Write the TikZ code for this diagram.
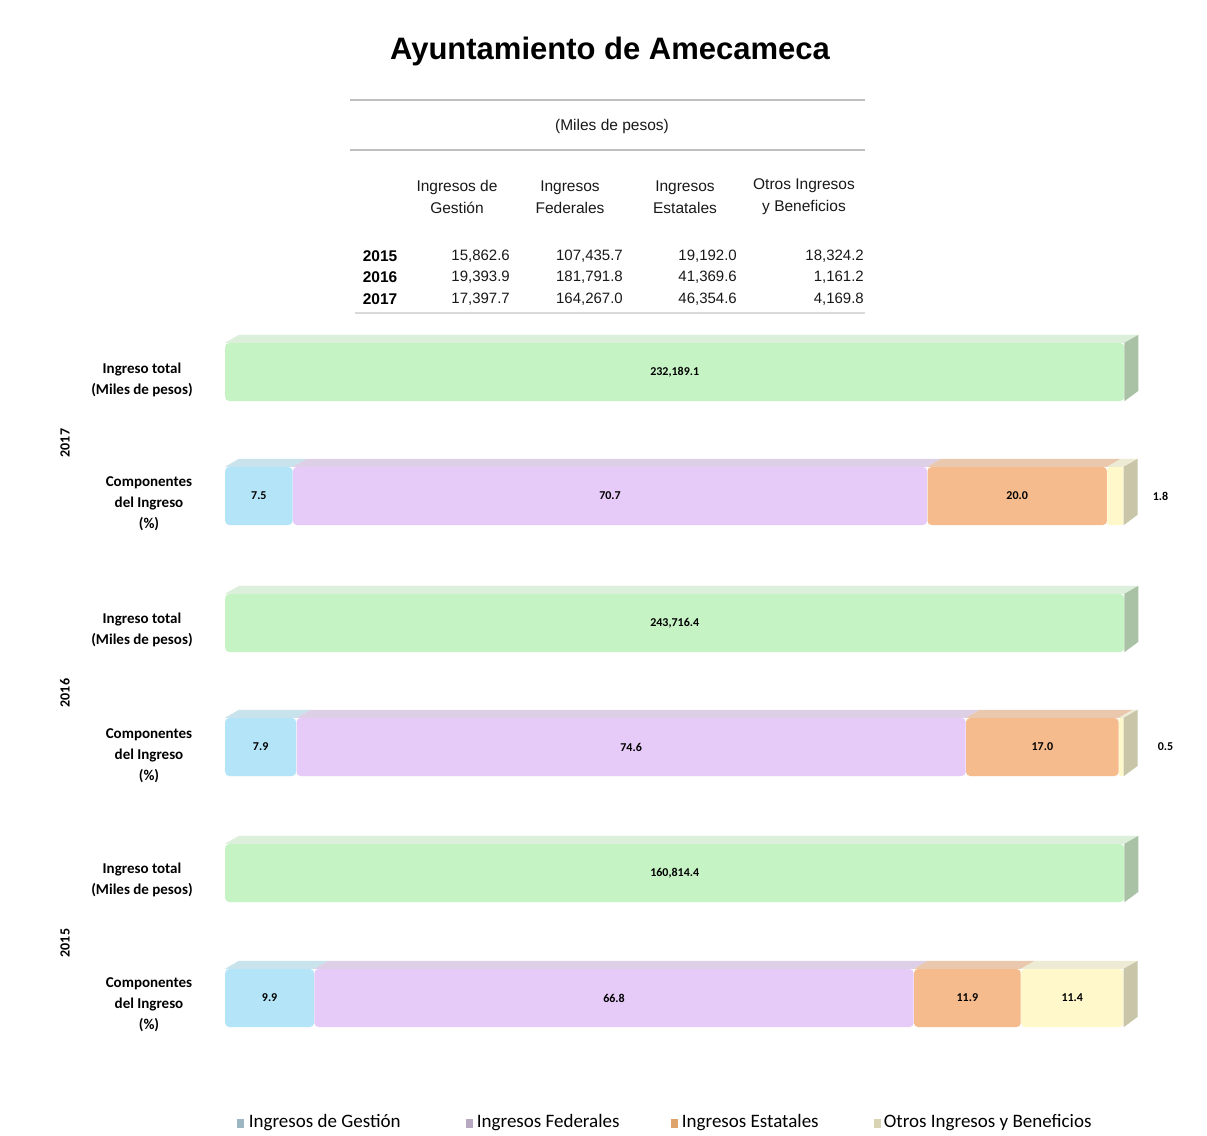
\documentclass[tikz,border=0pt]{standalone}
\usepackage{fontspec}
\setmainfont{Liberation Sans}
\newfontfamily\calfont{Carlito}
\usetikzlibrary{positioning}
\definecolor{verde}{HTML}{C6F3C4}
\definecolor{verdetop}{HTML}{DCEFDA}
\definecolor{verdeside}{HTML}{A9C2A5}
\definecolor{azul}{HTML}{B3E4F7}
\definecolor{azultop}{HTML}{C9E3EC}
\definecolor{morado}{HTML}{E6CAF7}
\definecolor{moradotop}{HTML}{DDD0E6}
\definecolor{naranja}{HTML}{F5BB8C}
\definecolor{naranjatop}{HTML}{EAC8AE}
\definecolor{amarillo}{HTML}{FFF8CA}
\definecolor{amarillotop}{HTML}{EEEBD4}
\definecolor{lateral}{HTML}{C8C5A8}
\tikzset{
    seg/.style={
        rectangle, rounded corners=4pt, minimum height=58pt, inner sep=0pt, align=center, text=black, font=\calfont\bfseries\fontsize{12}{14}\selectfont
    },
    rowlabel/.style={
        align=center, text=black, font=\calfont\bfseries\fontsize{15}{21}\selectfont
    },
    yearlabel/.style={
        rotate=90, text=black, font=\calfont\bfseries\fontsize{14}{16}\selectfont
    },
    head/.style={
        align=center, text=black!90, font=\fontsize{15.5}{22}\selectfont
    },
    cell/.style={
        anchor=east, inner sep=0pt, text=black!90, font=\fontsize{15}{16}\selectfont
    },
    year/.style={
        inner sep=0pt, text=black, font=\bfseries\fontsize{15.5}{16}\selectfont
    },
    rule/.style={
        draw=black!25, line width=1.2pt
    },
    legbox/.style={
        rectangle, minimum width=7pt, minimum height=9pt, inner sep=0pt
    },
    legtext/.style={
        inner sep=0pt, text=black, font=\calfont\fontsize{19}{21}\selectfont
    }
}
% top and side faces of a bar piece
\newcommand{\tapa}[2]{\fill[#2] (#1.north west) -- (#1.north east) -- ++(14,-8) -- ([xshift=14pt,yshift=8pt]#1.north west) -- cycle;}
\newcommand{\lado}[2]{\fill[#2] (#1.north east) -- ++(14,-8) -- ++(0,56) -- (#1.south east) -- cycle;}

\begin{document}
\begin{tikzpicture}[x=1pt, y=-1pt]
    \useasboundingbox[fill=white] (0,0) rectangle (1207,1135);

    % titulo y tabla
    \node (title) at (610,51) {\fontsize{31}{36}\selectfont\bfseries Ayuntamiento de Amecameca};
    \coordinate (r1a) at (350,100);  \coordinate (r1b) at (865,100);
    \coordinate (r2a) at (350,150);  \coordinate (r2b) at (865,150);
    \coordinate (r3a) at (355,313);  \coordinate (r3b) at (865,313);
    \draw[rule] (r1a) -- (r1b);
    \draw[rule] (r2a) -- (r2b);
    \draw[rule, draw=black!15] (r3a) -- (r3b);
    \node[head] (units) at (612,126) {(Miles de pesos)};
    \node[head] (hgest) at (457,197) {Ingresos de\\Gestión};
    \node[head] (hfed) at (570,197) {Ingresos\\Federales};
    \node[head] (hest) at (685,197) {Ingresos\\Estatales};
    \node[head] (hotr) at (804,197) {Otros Ingresos\\y Beneficios};

    \node[year] (y15) at (380,256) {2015};
    \node[year] (y16) at (380,277) {2016};
    \node[year] (y17) at (380,299) {2017};
    \node[cell] (c15a) at (510,256) {15,862.6};
    \node[cell] (c15b) at (623,256) {107,435.7};
    \node[cell] (c15c) at (737,256) {19,192.0};
    \node[cell] (c15d) at (864,256) {18,324.2};
    \node[cell] (c16a) at (510,277) {19,393.9};
    \node[cell] (c16b) at (623,277) {181,791.8};
    \node[cell] (c16c) at (737,277) {41,369.6};
    \node[cell] (c16d) at (864,277) {1,161.2};
    \node[cell] (c17a) at (510,299) {17,397.7};
    \node[cell] (c17b) at (623,299) {164,267.0};
    \node[cell] (c17c) at (737,299) {46,354.6};
    \node[cell] (c17d) at (864,299) {4,169.8};

    % etiquetas de la izquierda
    \node[yearlabel] (a17) at (65,443) {2017};
    \node[yearlabel] (a16) at (65,693) {2016};
    \node[yearlabel] (a15) at (65,943) {2015};
    \node[rowlabel] (lt17) at (142,380) {Ingreso total\\(Miles de pesos)};
    \node[rowlabel] (lc17) at (149,504) {Componentes\\del Ingreso\\(\%)};
    \node[rowlabel] (lt16) at (142,630) {Ingreso total\\(Miles de pesos)};
    \node[rowlabel] (lc16) at (149,756) {Componentes\\del Ingreso\\(\%)};
    \node[rowlabel] (lt15) at (142,880) {Ingreso total\\(Miles de pesos)};
    \node[rowlabel] (lc15) at (149,1005) {Componentes\\del Ingreso\\(\%)};

    % 2017
    \node[seg, fill=verde, minimum width=899pt, anchor=west] (tot17) at (225,372) {232,189.1};
    \tapa{tot17}{verdetop} \lado{tot17}{verdeside}
    \node[seg, fill=azul, minimum width=67.3pt, anchor=west] (g17) at (225,496) {7.5};
    \node[seg, fill=morado, minimum width=634.2pt, right=0pt of g17] (f17) {70.7};
    \node[seg, fill=naranja, minimum width=179.4pt, right=0pt of f17] (e17) {20.0};
    \node[seg, fill=amarillo, minimum width=16.1pt, rounded corners=2pt, right=0pt of e17] (o17) {};
    \tapa{g17}{azultop} \tapa{f17}{moradotop} \tapa{e17}{naranjatop} \tapa{o17}{amarillotop} \lado{o17}{lateral}
    \node[seg, right=29pt of o17] (v17) {1.8};

    % 2016
    \node[seg, fill=verde, minimum width=899pt, anchor=west] (tot16) at (225,623) {243,716.4};
    \tapa{tot16}{verdetop} \lado{tot16}{verdeside}
    \node[seg, fill=azul, minimum width=70.9pt, anchor=west] (g16) at (225,747) {7.9};
    \node[seg, fill=morado, minimum width=669.2pt, right=0pt of g16] (f16) {74.6};
    \node[seg, fill=naranja, minimum width=152.5pt, right=0pt of f16] (e16) {17.0};
    \node[seg, fill=amarillo, minimum width=4.5pt, rounded corners=1pt, right=0pt of e16] (o16) {};
    \tapa{g16}{azultop} \tapa{f16}{moradotop} \tapa{e16}{naranjatop} \tapa{o16}{amarillotop} \lado{o16}{lateral}
    \node[seg, right=34pt of o16] (v16) {0.5};

    % 2015
    \node[seg, fill=verde, minimum width=899pt, anchor=west] (tot15) at (225,873) {160,814.4};
    \tapa{tot15}{verdetop} \lado{tot15}{verdeside}
    \node[seg, fill=azul, minimum width=88.8pt, anchor=west] (g15) at (225,998) {9.9};
    \node[seg, fill=morado, minimum width=599.2pt, right=0pt of g15] (f15) {66.8};
    \node[seg, fill=naranja, minimum width=106.7pt, right=0pt of f15] (e15) {11.9};
    \node[seg, fill=amarillo, minimum width=102.3pt, right=0pt of e15] (o15) {11.4};
    \tapa{g15}{azultop} \tapa{f15}{moradotop} \tapa{e15}{naranjatop} \tapa{o15}{amarillotop} \lado{o15}{lateral}

    % leyenda
    \node[legbox, fill=azul!55!gray] (kg) at (240,1123) {};
    \node[legtext, right=5pt of kg] (tg) {Ingresos de Gestión};
    \node[legbox, fill=morado!55!gray] (kf) at (469,1123) {};
    \node[legtext, right=4pt of kf] (tf) {Ingresos Federales};
    \node[legbox, fill=naranja!60!brown] (ke) at (674,1123) {};
    \node[legtext, right=4pt of ke] (te) {Ingresos Estatales};
    \node[legbox, fill=amarillo!70!gray] (ko) at (877,1123) {};
    \node[legtext, right=3pt of ko] (to) {Otros Ingresos y Beneficios};

\end{tikzpicture}
\end{document}
